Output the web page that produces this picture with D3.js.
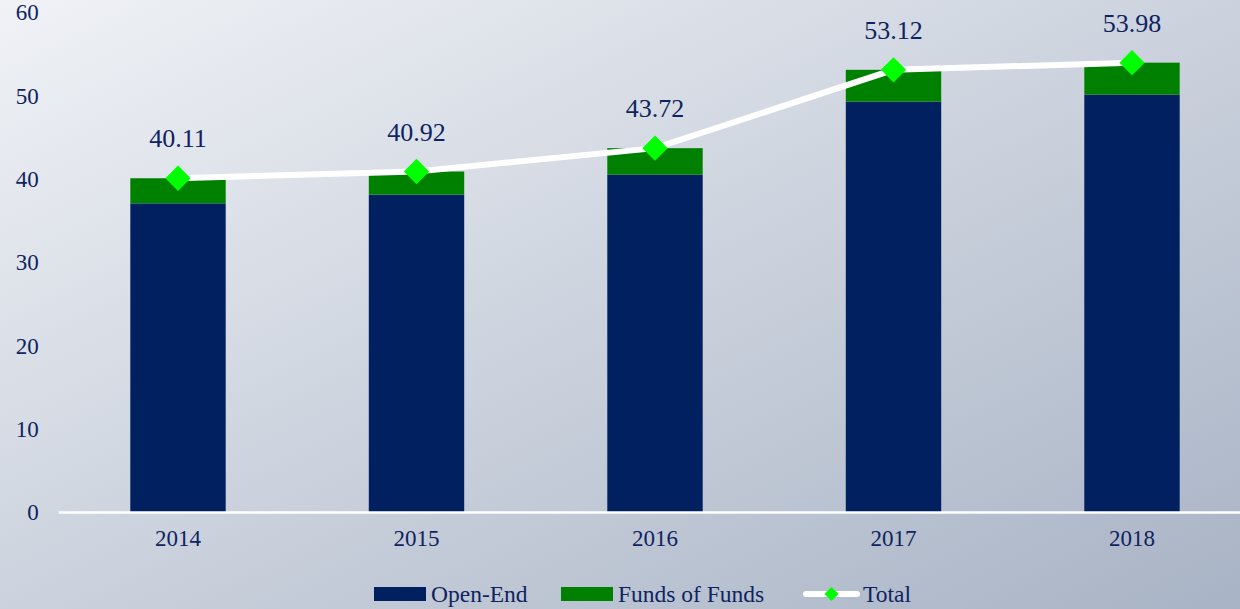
<!DOCTYPE html>
<html>
<head>
<meta charset="utf-8">
<script src="https://cdn.jsdelivr.net/npm/d3@7"></script>
<style>
  html, body { margin: 0; padding: 0; overflow: hidden; }
  text { font-family: "Liberation Serif", "Times New Roman", serif; fill: #0e2461; }
</style>
</head>
<body>
<div id="wrapper"></div>
<script>
const years = ['2014', '2015', '2016', '2017', '2018']
const openEnd = [37.1, 38.15, 40.55, 49.3, 50.15]
const fundsOfFunds = [3.01, 2.77, 3.17, 3.82, 3.83]
const totals = [40.11, 40.92, 43.72, 53.12, 53.98]
const yTicks = [0, 10, 20, 30, 40, 50, 60]

function drawChart() {
  const dimensions = {
    width: 1240,
    height: 609,
    margin: { top: 12.5, right: -11.25, bottom: 96.5, left: 58.75 }
  }
  dimensions.boundedWidth = dimensions.width - dimensions.margin.left - dimensions.margin.right
  dimensions.boundedHeight = dimensions.height - dimensions.margin.top - dimensions.margin.bottom

  const wrapper = d3.select('#wrapper')
    .append('svg')
      .attr('width', dimensions.width)
      .attr('height', dimensions.height)

  // background gradient
  const grad = wrapper.append('defs').append('linearGradient')
      .attr('id', 'bg')
      .attr('x1', 0).attr('y1', 0).attr('x2', 1).attr('y2', 1)
  grad.append('stop').attr('offset', '0%').attr('stop-color', '#f0f2f6')
  grad.append('stop').attr('offset', '100%').attr('stop-color', '#a8b3c5')

  wrapper.append('rect')
      .attr('width', dimensions.width)
      .attr('height', dimensions.height)
      .attr('fill', 'url(#bg)')

  const bounds = wrapper.append('g')
    .attr('transform', `translate(${dimensions.margin.left}, ${dimensions.margin.top})`)

  //scales
  const xScale = d3.scaleBand()
    .domain(years)
    .range([0, dimensions.boundedWidth])
    .paddingInner(0.6)
    .paddingOuter(0.3)

  const yScale = d3.scaleLinear()
    .domain([0, 60])
    .range([dimensions.boundedHeight, 0])

  const rows = years.map((y, i) => ({
    year: y, openEnd: openEnd[i], fundsOfFunds: fundsOfFunds[i], total: totals[i]
  }))

  //bars
  bounds.selectAll('.bar-open')
    .data(rows)
    .join('rect')
      .attr('class', 'bar-open')
      .attr('x', d => xScale(d.year))
      .attr('width', xScale.bandwidth())
      .attr('y', d => yScale(d.openEnd))
      .attr('height', d => yScale(0) - yScale(d.openEnd))
      .attr('fill', '#002060')

  bounds.selectAll('.bar-fof')
    .data(rows)
    .join('rect')
      .attr('class', 'bar-fof')
      .attr('x', d => xScale(d.year))
      .attr('width', xScale.bandwidth())
      .attr('y', d => yScale(d.openEnd + d.fundsOfFunds))
      .attr('height', d => yScale(d.openEnd) - yScale(d.openEnd + d.fundsOfFunds))
      .attr('fill', '#008000')

  //x axis line
  bounds.append('line')
      .attr('x1', 0)
      .attr('x2', dimensions.width)
      .attr('y1', yScale(0))
      .attr('y2', yScale(0))
      .attr('stroke', '#ffffff')
      .attr('stroke-width', 2.5)

  //y tick labels
  const yAxisGenerator = d3.axisLeft(yScale)
    .tickValues(yTicks)
    .tickSize(0)
    .tickPadding(20)
  const yAxis = bounds.append('g').call(yAxisGenerator)
  yAxis.select('.domain').remove()
  yAxis.selectAll('text')
      .attr('font-size', 23)
      .attr('font-family', null)

  //x tick labels
  const xAxisGenerator = d3.axisBottom(xScale)
    .tickSize(0)
    .tickPadding(17)
  const xAxis = bounds.append('g')
      .attr('transform', `translate(0, ${dimensions.boundedHeight})`)
      .call(xAxisGenerator)
  xAxis.select('.domain').remove()
  xAxis.selectAll('text')
      .attr('font-size', 23)
      .attr('font-family', null)

  //total line
  const cx = d => xScale(d.year) + xScale.bandwidth() / 2
  const lineGenerator = d3.line()
    .x(cx)
    .y(d => yScale(d.total))

  bounds.append('path')
      .datum(rows)
      .attr('d', lineGenerator)
      .attr('fill', 'none')
      .attr('stroke', '#ffffff')
      .attr('stroke-width', 6)

  const diamond = d3.symbol().type(d3.symbolSquare).size(320)
  bounds.selectAll('.marker')
    .data(rows)
    .join('path')
      .attr('class', 'marker')
      .attr('d', diamond)
      .attr('transform', d => `translate(${cx(d)}, ${yScale(d.total)}) rotate(45)`)
      .attr('fill', '#00ff00')

  bounds.selectAll('.value-label')
    .data(rows)
    .join('text')
      .attr('class', 'value-label')
      .attr('x', cx)
      .attr('y', d => yScale(d.total) - 31)
      .attr('text-anchor', 'middle')
      .attr('font-size', 26)
      .text(d => d.total.toFixed(2))

  //legend
  const legend = wrapper.append('g')
    .attr('transform', 'translate(0, 594)')

  legend.append('rect')
      .attr('x', 374).attr('y', -7).attr('width', 52).attr('height', 14)
      .attr('fill', '#002060')
  legend.append('text')
      .attr('x', 431).attr('dy', '0.35em')
      .attr('font-size', 23.5)
      .text('Open-End')

  legend.append('rect')
      .attr('x', 561).attr('y', -7).attr('width', 52).attr('height', 14)
      .attr('fill', '#008000')
  legend.append('text')
      .attr('x', 618).attr('dy', '0.35em')
      .attr('font-size', 23.5)
      .text('Funds of Funds')

  legend.append('line')
      .attr('x1', 806).attr('x2', 857)
      .attr('stroke', '#ffffff')
      .attr('stroke-width', 6)
      .attr('stroke-linecap', 'round')
  legend.append('path')
      .attr('d', d3.symbol().type(d3.symbolSquare).size(100))
      .attr('transform', 'translate(831.5, 0) rotate(45)')
      .attr('fill', '#00ff00')
  legend.append('text')
      .attr('x', 863).attr('dy', '0.35em')
      .attr('font-size', 23.5)
      .text('Total')
}

drawChart()
</script>
</body>
</html>
